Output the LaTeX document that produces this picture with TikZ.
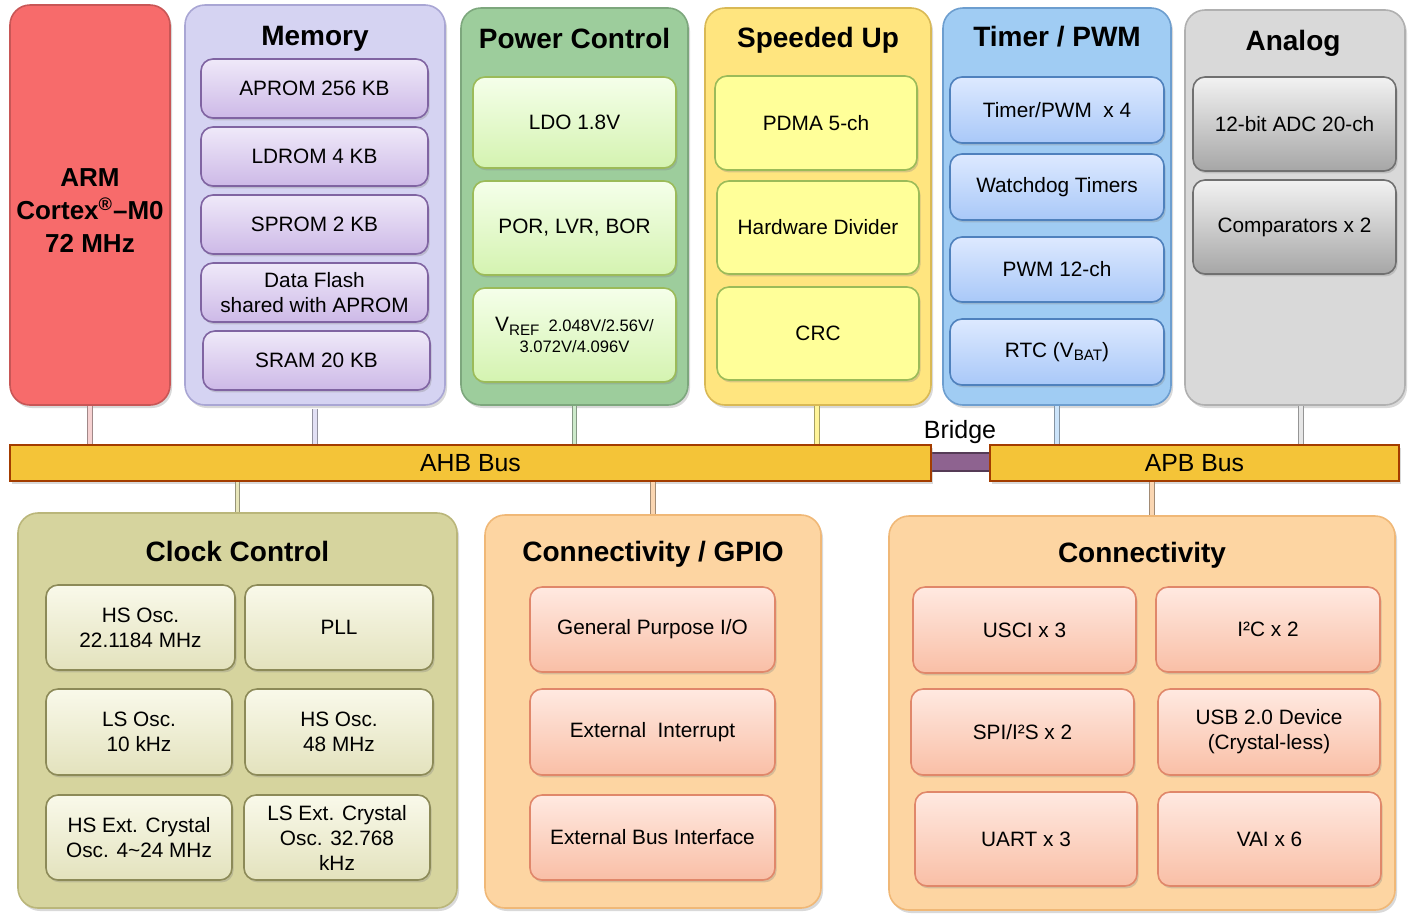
\documentclass[tikz,border=0pt]{standalone}
\usepackage{fontspec}
\setmainfont{Liberation Sans}
\usetikzlibrary{positioning,calc,shadows}

\definecolor{armfill}{HTML}{F76B6B}
\definecolor{armline}{HTML}{C85656}
\definecolor{memfill}{HTML}{D5D3F2}
\definecolor{memline}{HTML}{A9A6D4}
\definecolor{memtop}{HTML}{EFE9F9}
\definecolor{membot}{HTML}{CDB9E7}
\definecolor{meminner}{HTML}{8064A2}
\definecolor{pwrfill}{HTML}{9DCD9C}
\definecolor{pwrline}{HTML}{7DA77D}
\definecolor{pwrtop}{HTML}{F5FFEA}
\definecolor{pwrbot}{HTML}{D4F3B0}
\definecolor{pwrinner}{HTML}{9BBB59}
\definecolor{spdfill}{HTML}{FFE57F}
\definecolor{spdline}{HTML}{D9B955}
\definecolor{spdinner}{HTML}{FFFF99}
\definecolor{tmrfill}{HTML}{A0CCF3}
\definecolor{tmrline}{HTML}{6D9ECF}
\definecolor{tmrtop}{HTML}{DDE9FF}
\definecolor{tmrbot}{HTML}{A9C8F8}
\definecolor{tmrinner}{HTML}{4F81BD}
\definecolor{anafill}{HTML}{D9D9D9}
\definecolor{analine}{HTML}{B0B0B0}
\definecolor{anatop}{HTML}{F2F2F2}
\definecolor{anabot}{HTML}{A6A6A6}
\definecolor{anainner}{HTML}{707070}
\definecolor{clkfill}{HTML}{D6D49E}
\definecolor{clkline}{HTML}{BAB67A}
\definecolor{clktop}{HTML}{F9F9EA}
\definecolor{clkbot}{HTML}{E3E2BD}
\definecolor{clkinner}{HTML}{8C8A58}
\definecolor{conFill}{HTML}{FDD5A2}
\definecolor{conline}{HTML}{F0B877}
\definecolor{contop}{HTML}{FFE9E1}
\definecolor{conbot}{HTML}{F9BFA6}
\definecolor{coninner}{HTML}{E0876A}
\definecolor{busfill}{HTML}{F4C438}
\definecolor{busline}{HTML}{A33C00}
\definecolor{bridgefill}{HTML}{8E6390}
% stub colours
\definecolor{armstub}{HTML}{F6D2D2}
\definecolor{memstub}{HTML}{E2E0F4}
\definecolor{pwrstub}{HTML}{CDEACB}
\definecolor{spdstub}{HTML}{FFF49A}
\definecolor{tmrstub}{HTML}{CCE4FA}
\definecolor{anastub}{HTML}{E6E6E6}
\definecolor{clkstub}{HTML}{E8E6BA}
\definecolor{constub}{HTML}{FAD6B2}

\newcommand{\blocktitlefont}{\fontsize{14}{16}\selectfont\bfseries}
\newcommand{\boxtextfont}{\fontsize{10.4}{12.5}\selectfont}

\begin{document}
\begin{tikzpicture}[
        x=0.5pt, y=-0.5pt,
        spanbox/.style n args={4}{at={({(#1+#3)/2},{(#2+#4)/2})}, minimum width={(#3-#1)*0.5pt}, minimum height={(#4-#2)*0.5pt}},
        outerbox/.style n args={2}{rectangle, rounded corners=10pt, fill=#1, draw=#2, line width=0.8pt, inner sep=0pt,
            drop shadow={shadow xshift=1pt, shadow yshift=-1.5pt, opacity=0.3}},
        innerbox/.style n args={3}{rectangle, rounded corners=6pt, top color=#1, bottom color=#2, draw=#3, line width=0.8pt,
            inner sep=0pt, align=center, font=\boxtextfont, drop shadow={shadow xshift=0.8pt, shadow yshift=-1.2pt, opacity=0.3}},
        blocktitle/.style={font=\blocktitlefont, inner sep=0pt, anchor=base},
        busnode/.style={rectangle, fill=busfill, draw=busline, line width=1pt, inner sep=0pt,
            font=\fontsize{12.4}{14}\selectfont, drop shadow={shadow xshift=1pt, shadow yshift=-1.5pt, opacity=0.3}},
        stub/.style={draw=#1!65!black, double=#1, double distance=1.8pt, line width=0.4pt},
        ]
        \useasboundingbox (0,0) rectangle (1427,922);

        %Top blocks
        \node[outerbox={armfill}{armline}, spanbox={10}{5}{170}{405}] (arm) {};
        \node[align=center, inner sep=0pt, font=\fontsize{13}{16.3}\selectfont\bfseries]
            at ([yshift=-2.8pt]arm.center) (armtext) {ARM\\Cortex\textsuperscript{®}–M0\\72 MHz};
        \node[outerbox={memfill}{memline}, spanbox={185}{5}{445}{405}] (mem) {};
        \node[outerbox={pwrfill}{pwrline}, spanbox={461}{8}{688}{405}] (pwr) {};
        \node[outerbox={spdfill}{spdline}, spanbox={705}{8}{931}{405}] (spd) {};
        \node[outerbox={tmrfill}{tmrline}, spanbox={943}{8}{1171}{405}] (tmr) {};
        \node[outerbox={anafill}{analine}, spanbox={1185}{10}{1405}{405}] (ana) {};

        \node[blocktitle] at ([yshift=-20.5pt]mem.north) (memtitle) {Memory};
        \node[blocktitle] at ([yshift=-20.5pt]pwr.north) (pwrtitle) {Power Control};
        \node[blocktitle] at ([yshift=-20pt]spd.north) (spdtitle) {Speeded Up};
        \node[blocktitle] at ([yshift=-19.5pt]tmr.north) (tmrtitle) {Timer / PWM};
        \node[blocktitle, xshift=-1pt] at ([yshift=-20.5pt]ana.north) (anatitle) {Analog};

        %Memory
        \node[innerbox={memtop}{membot}{meminner}, spanbox={201}{59}{428}{118}] (aprom) {APROM 256 KB};
        \node[innerbox={memtop}{membot}{meminner}, spanbox={201}{127}{428}{186}] (ldrom) {LDROM 4 KB};
        \node[innerbox={memtop}{membot}{meminner}, spanbox={201}{195}{428}{254}] (sprom) {SPROM 2 KB};
        \node[innerbox={memtop}{membot}{meminner}, spanbox={201}{263}{428}{322}] (dflash) {Data Flash\\shared with APROM};
        \node[innerbox={memtop}{membot}{meminner}, spanbox={203}{331}{430}{390}] (sram) {SRAM 20 KB};

        %Power
        \node[innerbox={pwrtop}{pwrbot}{pwrinner}, spanbox={473}{77}{676}{168}] (ldo) {LDO 1.8V};
        \node[innerbox={pwrtop}{pwrbot}{pwrinner}, spanbox={473}{181}{676}{275}] (por) {POR, LVR, BOR};
        \node[innerbox={pwrtop}{pwrbot}{pwrinner}, spanbox={473}{288}{676}{382}, font=\fontsize{8.3}{10.5}\selectfont] (vref)
            {{\fontsize{10.4}{10.5}\selectfont V}\raisebox{-1.8pt}{\fontsize{7.6}{8}\selectfont REF}\ \ 2.048V/2.56V/\\3.072V/4.096V};

        %Speeded up
        \node[innerbox={spdinner}{spdinner}{pwrinner}, spanbox={715}{76}{917}{170}] (pdma) {PDMA 5-ch};
        \node[innerbox={spdinner}{spdinner}{pwrinner}, spanbox={717}{181}{919}{274}] (hdiv) {Hardware Divider};
        \node[innerbox={spdinner}{spdinner}{pwrinner}, spanbox={717}{287}{919}{380}] (crc) {CRC};

        %Timer
        \node[innerbox={tmrtop}{tmrbot}{tmrinner}, spanbox={950}{77}{1164}{143}] (tpwm) {Timer/PWM\ \ x 4};
        \node[innerbox={tmrtop}{tmrbot}{tmrinner}, spanbox={950}{154}{1164}{220}] (wdt) {Watchdog Timers};
        \node[innerbox={tmrtop}{tmrbot}{tmrinner}, spanbox={950}{237}{1164}{302}] (pwm) {PWM 12-ch};
        \node[innerbox={tmrtop}{tmrbot}{tmrinner}, spanbox={950}{319}{1164}{385}] (rtc) {RTC (V\raisebox{-1.5pt}{\fontsize{7.6}{8}\selectfont BAT})};

        %Analog
        \node[innerbox={anatop}{anabot}{anainner}, spanbox={1193}{77}{1396}{171}] (adc) {12-bit ADC 20-ch};
        \node[innerbox={anatop}{anabot}{anainner}, spanbox={1193}{180}{1396}{274}] (acmp) {Comparators x 2};

        %Buses
        \node[rectangle, fill=bridgefill, draw=bridgefill!60!black, line width=0.6pt, spanbox={925}{453}{995}{471}, inner sep=0pt] (bridge) {};
        \node[busnode, spanbox={10}{445}{931}{481}] (ahb) {AHB Bus};
        \node[busnode, spanbox={990}{445}{1399}{481}] (apb) {APB Bus};
        \node[font=\fontsize{12.5}{14}\selectfont, inner sep=0pt, above=4pt of bridge.north, anchor=south] (bridgetext) {Bridge};

        %Bottom blocks
        \node[outerbox={clkfill}{clkline}, spanbox={18}{513}{457}{908}] (clk) {};
        \node[outerbox={conFill}{conline}, spanbox={485}{515}{821}{908}] (gpio) {};
        \node[outerbox={conFill}{conline}, spanbox={889}{516}{1395}{910}] (conn) {};

        \node[blocktitle] at ([yshift=-24.5pt]clk.north) (clktitle) {Clock Control};
        \node[blocktitle] at ([yshift=-23.5pt]gpio.north) (gpiotitle) {Connectivity / GPIO};
        \node[blocktitle] at ([yshift=-23.5pt]conn.north) (conntitle) {Connectivity};

        %Clock
        \node[innerbox={clktop}{clkbot}{clkinner}, spanbox={46}{585}{235}{670}] (hirc) {HS Osc.\\22.1184 MHz};
        \node[innerbox={clktop}{clkbot}{clkinner}, spanbox={245}{585}{433}{670}] (pll) {PLL};
        \node[innerbox={clktop}{clkbot}{clkinner}, spanbox={46}{689}{232}{775}] (lirc) {LS Osc.\\10 kHz};
        \node[innerbox={clktop}{clkbot}{clkinner}, spanbox={245}{689}{433}{775}] (hirc48) {HS Osc.\\48 MHz};
        \node[innerbox={clktop}{clkbot}{clkinner}, spanbox={46}{795}{232}{880}] (hxt) {HS Ext. Crystal\\Osc. 4\textasciitilde 24 MHz};
        \node[innerbox={clktop}{clkbot}{clkinner}, spanbox={244}{795}{430}{880}] (lxt) {LS Ext. Crystal\\Osc. 32.768\\kHz};

        %GPIO
        \node[innerbox={contop}{conbot}{coninner}, spanbox={530}{587}{775}{672}] (gpioio) {General Purpose I/O};
        \node[innerbox={contop}{conbot}{coninner}, spanbox={530}{689}{775}{775}] (eint) {External\ \ Interrupt};
        \node[innerbox={contop}{conbot}{coninner}, spanbox={530}{795}{775}{880}] (ebi) {External Bus Interface};

        %Connectivity
        \node[innerbox={contop}{conbot}{coninner}, spanbox={913}{587}{1136}{673}] (usci) {USCI x 3};
        \node[innerbox={contop}{conbot}{coninner}, spanbox={1156}{587}{1380}{672}] (i2c) {I²C x 2};
        \node[innerbox={contop}{conbot}{coninner}, spanbox={911}{689}{1134}{775}] (spi) {SPI/I²S x 2};
        \node[innerbox={contop}{conbot}{coninner}, spanbox={1158}{689}{1380}{775}] (usb) {USB 2.0 Device\\(Crystal-less)};
        \node[innerbox={contop}{conbot}{coninner}, spanbox={915}{792}{1137}{886}] (uart) {UART x 3};
        \node[innerbox={contop}{conbot}{coninner}, spanbox={1158}{792}{1381}{886}] (vai) {VAI x 6};

        %Lines
        \draw[stub=armstub] (arm.south) -- (arm.south |- ahb.north);
        \draw[stub=memstub] ([yshift=-1.5pt]mem.south) -- (mem.south |- ahb.north);
        \draw[stub=pwrstub] (pwr.south) -- (pwr.south |- ahb.north);
        \draw[stub=spdstub] ([xshift=-0.5pt]spd.south) -- ([xshift=-0.5pt]spd.south |- ahb.north);
        \draw[stub=tmrstub] (tmr.south) -- (tmr.south |- apb.north);
        \draw[stub=anastub] ([xshift=3pt]ana.south) -- ([xshift=3pt]ana.south |- apb.north);
        \draw[stub=clkstub] (ahb.south -| clk.north) -- (clk.north);
        \draw[stub=constub] (ahb.south -| gpio.north) -- (gpio.north);
        \draw[stub=constub] ([xshift=5pt]apb.south -| conn.north) -- ([xshift=5pt]conn.north);
    \end{tikzpicture}
\end{document}
